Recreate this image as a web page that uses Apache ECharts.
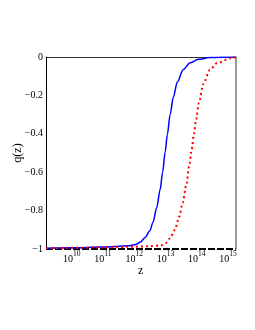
<!DOCTYPE html>
<html><head><meta charset="utf-8">
<script src="https://cdn.jsdelivr.net/npm/echarts@6/dist/echarts.min.js"></script>
<style>html,body{margin:0;padding:0;background:#fff}#c{width:255px;height:330px}</style>
</head><body><div id="c"></div>
<script>
const xTicks = [10, 11, 12, 13, 14, 15];
const yTicks = [0, -0.2, -0.4, -0.6, -0.8, -1];
const blueLogZ = [9.18, 10.0, 11.0, 11.8, 12.05, 12.2, 12.35, 12.5, 12.6, 12.72, 12.83, 12.91, 12.99, 13.06, 13.15, 13.25, 13.38, 13.57, 13.79, 14.05, 14.42, 14.8, 15.24];
const blueQ    = [-0.996, -0.994, -0.99, -0.983, -0.977, -0.964, -0.94, -0.905, -0.862, -0.785, -0.69, -0.6, -0.495, -0.405, -0.3, -0.21, -0.13, -0.065, -0.03, -0.012, -0.003, -0.001, 0];
const redLogZ  = [9.18, 10.0, 11.0, 12.0, 12.5, 12.85, 13.0, 13.15, 13.3, 13.44, 13.55, 13.66, 13.76, 13.84, 13.91, 13.98, 14.07, 14.21, 14.42, 14.64, 15.07, 15.24];
const redQ     = [-0.996, -0.994, -0.992, -0.988, -0.986, -0.981, -0.97, -0.944, -0.9, -0.832, -0.76, -0.672, -0.57, -0.48, -0.4, -0.325, -0.238, -0.14, -0.068, -0.033, -0.007, -0.002];
const blackLogZ = [9.18, 15.24];
const blackQ    = [-1, -1];

const zip = (a, b) => a.map((v, i) => [v, b[i]]);
const font = 'Liberation Serif';
const chart = echarts.init(document.getElementById('c'));
chart.setOption({
  animation: false,
  backgroundColor: '#fff',
  grid: {left: 46, right: 19.5, top: 57, bottom: 81, containLabel: false},
  xAxis: [{
    type: 'value', min: 9.18, max: 15.24,
    name: 'z', nameLocation: 'middle', nameGap: 16, nameMoveOverlap: false,
    nameTextStyle: {fontFamily: font, fontSize: 12, color: '#000'},
    axisLine: {show: false}, axisTick: {show: false}, splitLine: {show: false},
    axisLabel: {
      customValues: xTicks, margin: 1, color: '#000',
      formatter: v => '{b|10}{s|' + v + '}',
      rich: {
        b: {fontFamily: font, fontSize: 10, color: '#000', verticalAlign: 'bottom', lineHeight: 14},
        s: {fontFamily: font, fontSize: 7.5, color: '#000', verticalAlign: 'top', lineHeight: 14, padding: [0, 0, 5, 0]}
      }
    }
  }, {
    type: 'value', position: 'top', min: 9.18, max: 15.24,
    axisLine: {show: true, onZero: false, lineStyle: {color: '#333', width: 1}},
    axisTick: {show: false}, axisLabel: {show: false}, splitLine: {show: false}
  }],
  yAxis: [{
    type: 'value', min: -1, max: 0, interval: 0.2,
    name: 'q(z)', nameLocation: 'middle', nameGap: 22, nameRotate: 90, nameMoveOverlap: false,
    nameTextStyle: {fontFamily: font, fontSize: 12, color: '#000'},
    axisLine: {show: true, onZero: false, lineStyle: {color: '#000', width: 1}},
    axisTick: {show: false}, splitLine: {show: false},
    axisLabel: {
      customValues: yTicks, margin: 3, color: '#000', fontFamily: font, fontSize: 10,
      formatter: v => v === 0 ? '0' : (v === -1 ? '\u22121' : '\u2212' + Math.abs(v).toFixed(1))
    }
  }, {
    type: 'value', position: 'right', min: -1, max: 0,
    axisLine: {show: true, onZero: false, lineStyle: {color: '#999', width: 2}},
    axisTick: {show: false}, axisLabel: {show: false}, splitLine: {show: false}
  }],
  series: [
    {type: 'line', data: zip(blackLogZ, blackQ), showSymbol: false, symbol: 'none',
     lineStyle: {color: '#000', width: 2, type: [7, 2]}, clip: false, z: 2},
    {type: 'line', data: zip(blueLogZ, blueQ), symbol: 'none', smooth: 0.3, smoothMonotone: 'x',
     lineStyle: {color: '#0000ff', width: 1.5}, z: 3},
    {type: 'line', data: zip(redLogZ, redQ), symbol: 'none', smooth: 0.3, smoothMonotone: 'x',
     lineStyle: {color: '#ff0000', width: 2, type: [2, 3]}, z: 4}
  ]
});
</script></body></html>
